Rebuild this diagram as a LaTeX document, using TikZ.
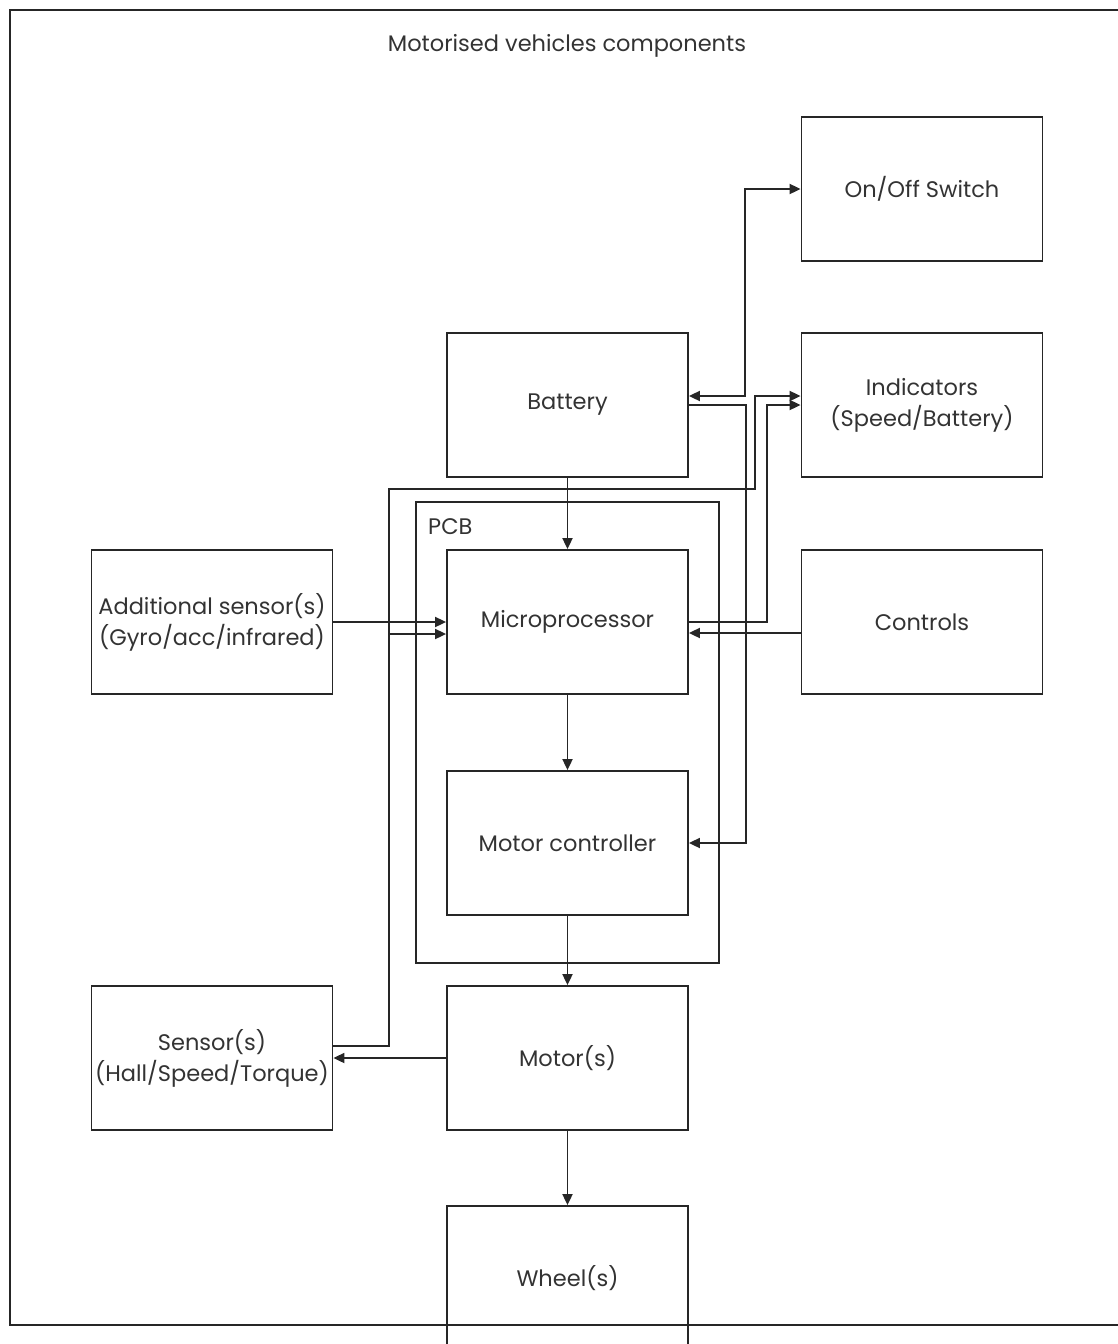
\documentclass[tikz,border=0pt]{standalone}
\usepackage{fontspec}
\setmainfont{Poppins}
\usetikzlibrary{arrows.meta, positioning, calc}

\begin{document}
\begin{tikzpicture}[x=1pt, y=-1pt,
  line width=1.8pt, draw=black!85,
  >={Triangle[length=11pt, width=10pt]},
  block/.style={draw, line width=1.8pt, minimum width=241pt, minimum height=144pt, align=center, inner sep=0pt, font=\fontsize{22.5}{31}\selectfont, text=black!80},
  label/.style={font=\fontsize{22.5}{31}\selectfont, text=black!80}]
  \useasboundingbox (0,0) rectangle (1117,1344);

  % Frame
  \draw (10,10) rectangle (1125,1325);
  \node[label] (title) at (567,46) {Motorised vehicles components};

  % PCB
  \node[draw, line width=1.8pt, minimum width=303pt, minimum height=461pt, inner sep=0pt] (pcb) at (567.5,732.5) {};
  \node[label, anchor=west] (pcblabel) at (424,527) {PCB};

  % Blocks
  \node[block] (switch) at (922,189) {On/Off Switch};
  \node[block] (battery) at (567.5,405) {Battery};
  \node[block] (indicators) at (922,405) {Indicators\\(Speed/Battery)};
  \node[block] (addsensor) at (212,622) {Additional sensor(s)\\(Gyro/acc/infrared)};
  \node[block] (micro) at (567.5,622) {Microprocessor};
  \node[block] (controls) at (922,622) {Controls};
  \node[block] (motorctrl) at (567.5,843) {Motor controller};
  \node[block] (sensors) at (212,1058) {Sensor(s)\\(Hall/Speed/Torque)};
  \node[block] (motor) at (567.5,1058) {Motor(s)};
  \node[block] (wheel) at (567.5,1278) {Wheel(s)};

  % Bends
  \coordinate (bendA) at (389,489);
  \coordinate (bendB) at (755,489);
  \coordinate (microIn) at ([yshift=-12pt]micro.west);

  % Main chain
  \draw[->] (battery) -- (micro);
  \draw[->] (micro) -- (motorctrl);
  \draw[->] (motorctrl) -- (motor);
  \draw[->] (motor) -- (wheel);
  \draw[->] (motor) -- (sensors);

  % Inputs to the microprocessor
  \draw[->] (addsensor) -- (micro);
  \draw[->] ([yshift=-11pt]controls.west) -- ([yshift=-11pt]micro.east);
  \draw[->] ([yshift=12pt]sensors.east) -| (microIn -| bendA) -- (microIn);

  % Power and indicators
  \draw[<->] ([yshift=9pt]battery.east) -- ++(56,0) |- (switch.west);
  \draw[->] (battery.east) -- ++(57,0) |- (motorctrl.east);
  \draw[->] (micro.east) -- ++(78,0) |- (indicators.west);
  \draw[->] ([yshift=12pt]sensors.east) -| (bendA) -- (bendB) |- ([yshift=9pt]indicators.west);
\end{tikzpicture}
\end{document}
